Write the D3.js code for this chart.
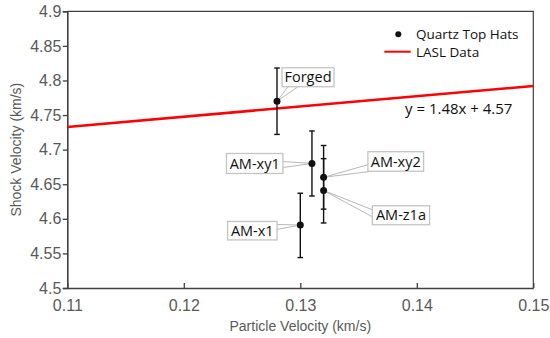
<!DOCTYPE html>
<html><head><meta charset="utf-8">
<script src="https://cdn.jsdelivr.net/npm/d3@7"></script>
<style>
body{margin:0;background:#fff;}
svg{display:block;}
</style></head>
<body>
<svg id="chart" width="550" height="338"></svg>
<script>
// ---- data ----
const sampleNames = ["Forged", "AM-xy1", "AM-xy2", "AM-z1a", "AM-x1"];
const particleVelocity = [0.128, 0.131, 0.132, 0.132, 0.130];
const shockVelocity = [4.770, 4.680, 4.660, 4.641, 4.591];
const errorPlus = [0.048, 0.047, 0.046, 0.046, 0.046];
const errorMinus = [0.048, 0.047, 0.046, 0.047, 0.047];
const fitSlope = 1.48;
const fitIntercept = 4.57;
const xTicks = [0.11, 0.12, 0.13, 0.14, 0.15];
const yTicks = [4.5, 4.55, 4.6, 4.65, 4.7, 4.75, 4.8, 4.85, 4.9];
const legendLabels = ["Quartz Top Hats", "LASL Data"];
const equationText = "y = 1.48x + 4.57";

// ---- layout ----
const W = 550, H = 338;
const m = {left: 67.3, right: 16.7, top: 11.3, bottom: 50};
const svg = d3.select("#chart");
const x = d3.scaleLinear().domain([0.11, 0.15]).range([m.left, W - m.right]);
const y = d3.scaleLinear().domain([4.5, 4.9]).range([H - m.bottom, m.top]);
const axisColor = "#404040", textColor = "#595959";
const tickFont = "Liberation Sans, Arial, sans-serif";
const labelFont = "'Open Sans', sans-serif";

// frame (top/right)
svg.append("path")
  .attr("d", `M${x(0.11)},${y(4.9)}H${x(0.15)}V${y(4.5)}`)
  .attr("fill", "none").attr("stroke", axisColor).attr("stroke-width", 1.2);

// y axis
const yAxis = svg.append("g").attr("transform", `translate(${x(0.11)},0)`)
  .call(d3.axisLeft(y).tickValues(yTicks).tickSize(4.5).tickPadding(1.5).tickFormat(d => d3.format("")(+d.toFixed(2))));
yAxis.select(".domain").attr("stroke", axisColor).attr("stroke-width", 1.6);
yAxis.selectAll(".tick line").attr("stroke", axisColor).attr("stroke-width", 1.3);
yAxis.selectAll(".tick text").attr("fill", textColor).style("font-family", tickFont).style("font-size", "16px");

// x axis (ticks inward)
const xAxis = svg.append("g").attr("transform", `translate(0,${y(4.5)})`)
  .call(d3.axisBottom(x).tickValues(xTicks).tickSizeInner(-5).tickSizeOuter(0).tickPadding(12).tickFormat(d => d3.format("")(+d.toFixed(2))));
xAxis.select(".domain").attr("stroke", axisColor).attr("stroke-width", 1.6);
xAxis.selectAll(".tick line").attr("stroke", axisColor).attr("stroke-width", 1.3);
xAxis.selectAll(".tick text").attr("fill", textColor).style("font-family", tickFont).style("font-size", "16px");

// axis titles
svg.append("text").attr("x", (x(0.11) + x(0.15)) / 2 + 0).attr("y", 331)
  .attr("text-anchor", "middle").attr("fill", textColor)
  .style("font-family", tickFont).style("font-size", "14px").text("Particle Velocity (km/s)");
svg.append("text").attr("transform", `translate(21,${(y(4.5) + y(4.9)) / 2}) rotate(-90)`)
  .attr("text-anchor", "middle").attr("fill", textColor)
  .style("font-family", tickFont).style("font-size", "14px").text("Shock Velocity (km/s)");

// fit line
svg.append("line")
  .attr("x1", x(0.11)).attr("y1", y(fitSlope * 0.11 + fitIntercept))
  .attr("x2", x(0.15)).attr("y2", y(fitSlope * 0.15 + fitIntercept))
  .attr("stroke", "#ff0000").attr("stroke-width", 2.5);

svg.append("text").attr("x", 405).attr("y", 113.5)
  .attr("fill", "#111").style("font-family", labelFont).style("font-size", "15px").text(equationText);

// error bars
const pts = sampleNames.map((n, i) => ({n, px: x(particleVelocity[i]), py: y(shockVelocity[i]),
  top: y(shockVelocity[i] + errorPlus[i]), bot: y(shockVelocity[i] - errorMinus[i])}));
const eb = svg.append("g").attr("stroke", "#111").attr("stroke-width", 1.4);
pts.forEach(p => {
  eb.append("line").attr("x1", p.px).attr("x2", p.px).attr("y1", p.top).attr("y2", p.bot);
  eb.append("line").attr("x1", p.px - 2.8).attr("x2", p.px + 2.8).attr("y1", p.top).attr("y2", p.top);
  eb.append("line").attr("x1", p.px - 2.8).attr("x2", p.px + 2.8).attr("y1", p.bot).attr("y2", p.bot);
});

// callouts: box (relative to point) and wedge base points on box
const callout = {
  "Forged": {bx: 5, by: -33.5, w: 52, h: 19, wedge: [[6, 19], [16, 19]]},
  "AM-xy1": {bx: -85.5, by: -10, w: 56.5, h: 20, wedge: [[56.5, 8], [56.5, 14]]},
  "AM-xy2": {bx: 44.3, by: -25.6, w: 55.7, h: 19.5, wedge: [[0, 13], [4, 19.5]]},
  "AM-z1a": {bx: 48.7, by: 15.3, w: 57.3, h: 19, wedge: [[0, 4], [0, 11]]},
  "AM-x1": {bx: -72.7, by: -3.6, w: 49.4, h: 18.5, wedge: [[49.4, 3], [49.4, 8]]}
};
const cg = svg.append("g");
pts.forEach(p => {
  const c = callout[p.n];
  const bx = p.px + c.bx, by = p.py + c.by;
  cg.append("path")
    .attr("d", `M${bx + c.wedge[0][0]},${by + c.wedge[0][1]}L${p.px},${p.py}L${bx + c.wedge[1][0]},${by + c.wedge[1][1]}`)
    .attr("fill", "none").attr("stroke", "#b8b8b8").attr("stroke-width", 1);
  cg.append("rect").attr("x", bx).attr("y", by).attr("width", c.w).attr("height", c.h)
    .attr("fill", "#fff").attr("stroke", "#c4c4c4").attr("stroke-width", 1.3);
  cg.append("text").attr("x", bx + c.w / 2).attr("y", by + c.h / 2 + 5.2)
    .attr("text-anchor", "middle").attr("fill", "#111")
    .style("font-family", labelFont).style("font-size", "14.5px").text(p.n);
});

// points
svg.append("g").selectAll("circle").data(pts).join("circle")
  .attr("cx", d => d.px).attr("cy", d => d.py).attr("r", 3.5).attr("fill", "#111");

// legend
const lg = svg.append("g");
lg.append("circle").attr("cx", 398.3).attr("cy", 34.3).attr("r", 3).attr("fill", "#111");
lg.append("text").attr("x", 416).attr("y", 39).attr("fill", "#111")
  .style("font-family", labelFont).style("font-size", "13.5px").text(legendLabels[0]);
lg.append("line").attr("x1", 384.3).attr("x2", 410.7).attr("y1", 51.7).attr("y2", 51.7)
  .attr("stroke", "#ff0000").attr("stroke-width", 2);
lg.append("text").attr("x", 416).attr("y", 56.5).attr("fill", "#111")
  .style("font-family", labelFont).style("font-size", "13.5px").text(legendLabels[1]);
</script>
</body></html>
